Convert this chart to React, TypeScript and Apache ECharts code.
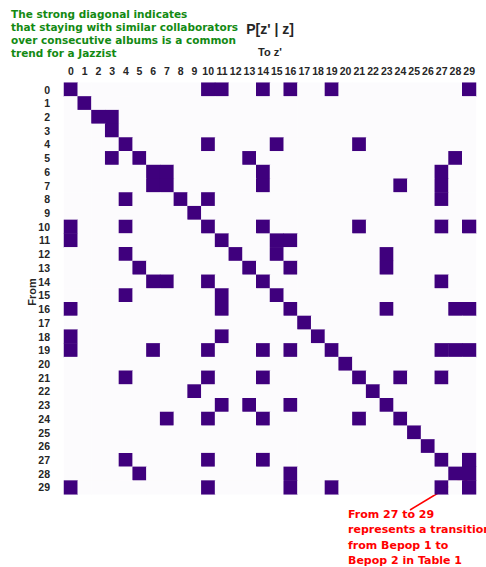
import React, { useEffect, useRef } from "react";
import * as echarts from "echarts";

const states: string[] = Array.from({ length: 30 }, (_, i) => String(i));

// For each "from" state (row), the "to" states with a high transition probability
const transitions: number[][] = [
  [0, 10, 11, 14, 16, 19, 29],
  [1],
  [2, 3],
  [3],
  [4, 10, 15, 21],
  [3, 5, 13, 28],
  [6, 7, 14, 27],
  [6, 7, 14, 24, 27],
  [4, 8, 10, 27],
  [9],
  [0, 4, 10, 14, 21, 27, 29],
  [0, 11, 15, 16],
  [4, 12, 15, 23],
  [5, 13, 16, 23],
  [6, 7, 10, 14, 27],
  [4, 11, 15],
  [0, 11, 16, 23, 28, 29],
  [17],
  [0, 11, 18],
  [0, 6, 10, 14, 16, 19, 27, 28, 29],
  [20],
  [4, 10, 14, 21, 24, 27],
  [9, 22],
  [11, 13, 16, 23],
  [7, 10, 14, 21, 24],
  [25],
  [26],
  [4, 10, 14, 27, 29],
  [5, 16, 28, 29],
  [0, 10, 16, 19, 27, 29],
];

const noteLines: string[] = [
  "The strong diagonal indicates",
  "that staying with similar collaborators",
  "over consecutive albums is a common",
  "trend for a Jazzist",
];

const arrowLines: string[] = [
  "From 27 to 29",
  "represents a transition",
  "from Bepop 1 to",
  "Bepop 2 in Table 1",
];

export default function App() {
  const ref = useRef<HTMLDivElement>(null);
  useEffect(() => {
    if (!ref.current) return;
    const chart = echarts.init(ref.current, undefined, { renderer: "svg" });
    const data: number[][] = [];
    for (let r = 0; r < states.length; r++) {
      for (let c = 0; c < states.length; c++) {
        data.push([c, r, transitions[r].includes(c) ? 1 : 0]);
      }
    }
    const green = "#138a13";
    const red = "#ff0000";
    chart.setOption({
      animation: false,
      backgroundColor: "#ffffff",
      grid: { left: 64, top: 82.7, width: 412, height: 411.6 },
      xAxis: {
        type: "category",
        data: states,
        position: "top",
        axisLine: { show: false },
        axisTick: { show: false },
        splitLine: { show: false },
        axisLabel: {
          interval: 0,
          margin: 6,
          fontFamily: "Liberation Sans",
          fontWeight: "bold",
          fontSize: 10.5,
          color: "#262626",
        },
      },
      yAxis: {
        type: "category",
        data: states,
        inverse: true,
        axisLine: { show: false },
        axisTick: { show: false },
        splitLine: { show: false },
        axisLabel: {
          interval: 0,
          margin: 14,
          fontFamily: "Liberation Sans",
          fontWeight: "bold",
          fontSize: 10.5,
          color: "#262626",
        },
      },
      visualMap: {
        show: false,
        type: "piecewise",
        dimension: 2,
        pieces: [
          { value: 0, color: "#fcfbfd" },
          { value: 1, color: "#3f007d" },
        ],
      },
      series: [
        {
          type: "heatmap",
          data,
          itemStyle: { borderWidth: 0 },
          emphasis: { disabled: true },
        },
      ],
      graphic: [
        {
          type: "text",
          left: 11,
          top: 7,
          style: {
            text: noteLines.join("\n"),
            fontFamily: "DejaVu Sans",
            fontWeight: "bold",
            fontSize: 10.5,
            lineHeight: 13.1,
            fill: green,
          },
        },
        {
          type: "text",
          x: 270,
          y: 29,
          style: {
            text: "P[z' | z]",
            fontFamily: "Liberation Sans",
            fontWeight: "bold",
            fontSize: 14,
            fill: "#262626",
            align: "center",
            verticalAlign: "middle",
          },
        },
        {
          type: "text",
          x: 270,
          y: 52,
          style: {
            text: "To z'",
            fontFamily: "Liberation Sans",
            fontWeight: "bold",
            fontSize: 11,
            fill: "#262626",
            align: "center",
            verticalAlign: "middle",
          },
        },
        {
          type: "text",
          x: 32,
          y: 292,
          rotation: Math.PI / 2,
          style: {
            text: "From",
            fontFamily: "Liberation Sans",
            fontWeight: "bold",
            fontSize: 11,
            fill: "#262626",
            align: "center",
            verticalAlign: "middle",
          },
        },
        {
          type: "text",
          left: 348,
          top: 507,
          style: {
            text: arrowLines.join("\n"),
            fontFamily: "DejaVu Sans",
            fontWeight: "bold",
            fontSize: 11,
            lineHeight: 15.3,
            fill: red,
          },
        },
        {
          type: "line",
          shape: { x1: 410, y1: 510, x2: 463, y2: 478 },
          style: { stroke: red, lineWidth: 1.5 },
        },
        {
          type: "polygon",
          shape: { points: [[472, 472], [459, 473], [466, 483]] },
          style: { fill: red },
        },
      ],
    });
    return () => chart.dispose();
  }, []);
  return (
    <div
      ref={ref}
      style={{ position: "fixed", left: 0, top: 0, width: 486, height: 567 }}
    />
  );
}
